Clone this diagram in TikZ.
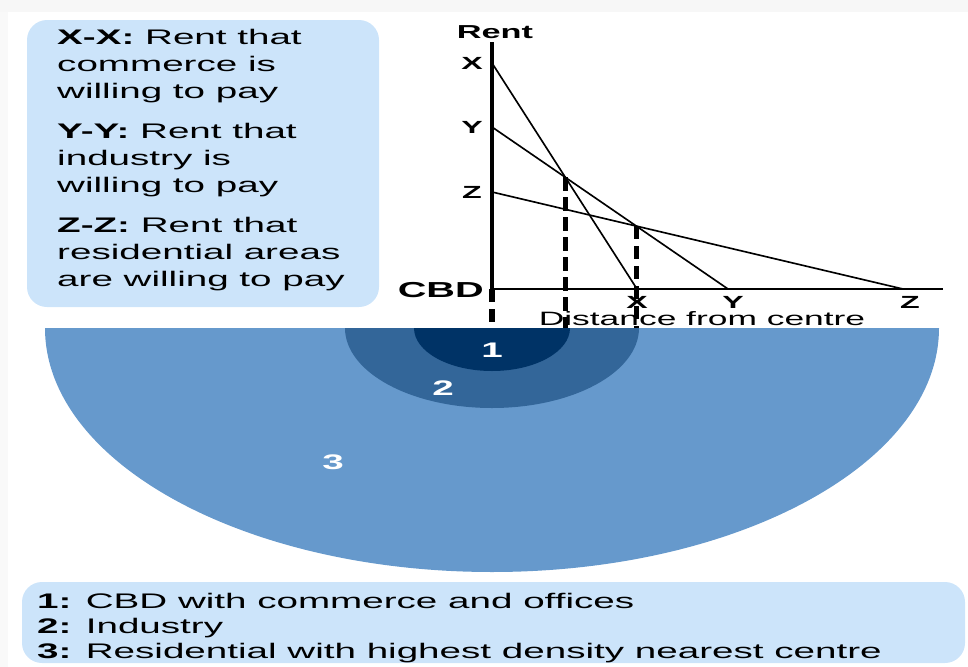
\documentclass[tikz,border=0pt]{standalone}
\usepackage{fontspec}
\setmainfont[FakeStretch=1.83]{Liberation Sans}
\usepackage{xcolor}
\definecolor{boxblue}{RGB}{204,228,250}
\definecolor{ringout}{RGB}{102,153,204}
\definecolor{ringmid}{RGB}{51,102,153}
\definecolor{ringin}{RGB}{0,51,102}

\begin{document}
\begin{tikzpicture}[
  x=0.03cm, y=-0.03cm,
  every node/.style={inner sep=0pt, font=\fontsize{16}{19}\selectfont},
  key/.style={anchor=north west, align=left},
  panel/.style={fill=boxblue, rounded corners=0.6cm},
  tick/.style={font=\fontsize{15}{18}\selectfont\bfseries},
  axis/.style={line width=3.4pt},
  rentline/.style={line width=1.4pt},
  drop/.style={line width=4.5pt, dash pattern=on 0.4cm off 0.2cm},
  zone/.style={text=white, font=\fontsize{18}{21}\selectfont\bfseries}
]
  \useasboundingbox (0,0) rectangle (968,667);
  \fill[gray!6] (0,0) rectangle (968,12);
  \fill[gray!5] (0,12) rectangle (8,667);

  \fill[panel] (27,20) rectangle (379,307);
  \node (keycurves) [key, font=\fontsize{18}{23}\selectfont] at (57,29)
    {\textbf{X-X:} Rent that\\commerce is\\willing to pay\\[0.39cm]
     \textbf{Y-Y:} Rent that\\industry is\\willing to pay\\[0.39cm]
     \textbf{Z-Z:} Rent that\\residential areas\\are willing to pay};

  \fill[panel] (22,582) rectangle (965,663);
  \node (keyzones) [key, font=\fontsize{18}{21.3}\selectfont] at (37,593)
    {\textbf{1:} CBD with commerce and offices\\
     \textbf{2:} Industry\\
     \textbf{3:} Residential with highest density nearest centre};

  \coordinate (centre) at (492,328);
  \coordinate (origin) at (492,289);
  \coordinate (top) at (492,42);
  \coordinate (end) at (943,289);
  \coordinate (rx) at (492,63);
  \coordinate (ry) at (492,127);
  \coordinate (rz) at (492,192);
  \coordinate (dx) at (637,289);
  \coordinate (dy) at (728,289);
  \coordinate (dz) at (903,289);
  \coordinate (xy) at (intersection of rx--dx and ry--dy);
  \coordinate (yz) at (intersection of ry--dy and rz--dz);

  \draw[drop] (origin) -- (centre);
  \draw[drop] (xy) -- (xy |- centre);
  \draw[drop] (yz) -- (yz |- centre);

  \draw[axis] (top) -- ([yshift=-1pt]origin);
  \draw[line width=2.5pt] (origin) -- (end);
  \draw[rentline] (rx) -- (dx);
  \draw[rentline] (ry) -- (dy);
  \draw[rentline] (rz) -- (dz);

  \node (rent) [tick, font=\fontsize{16}{19}\selectfont\bfseries] at (495,32) {Rent};
  \node (lx) [tick] at (472,63) {X};
  \node (ly) [tick] at (472,127) {Y};
  \node (lz) [tick] at (472,192) {Z};
  \node (cbd) [anchor=east, font=\fontsize{18.5}{22}\selectfont\bfseries] at (484,290) {CBD};
  \node (bx) [tick] at (637,302) {X};
  \node (by) [tick] at (733,302) {Y};
  \node (bz) [tick] at (910,302) {Z};
  \node (dist) [font=\fontsize{16.5}{19}\selectfont] at (702,319) {Distance from centre};

  \begin{scope}
    \clip (0,328) rectangle (968,667);
    \fill[ringout] (centre) ellipse [x radius=447, y radius=244];
    \fill[ringmid] (centre) ellipse [x radius=147, y radius=80];
    \fill[ringin] (centre) ellipse [x radius=78, y radius=43];
  \end{scope}
  \node (zone1) [zone] at (492,350) {1};
  \node (zone2) [zone] at (443,388) {2};
  \node (zone3) [zone] at (333,462) {3};
\end{tikzpicture}
\end{document}
